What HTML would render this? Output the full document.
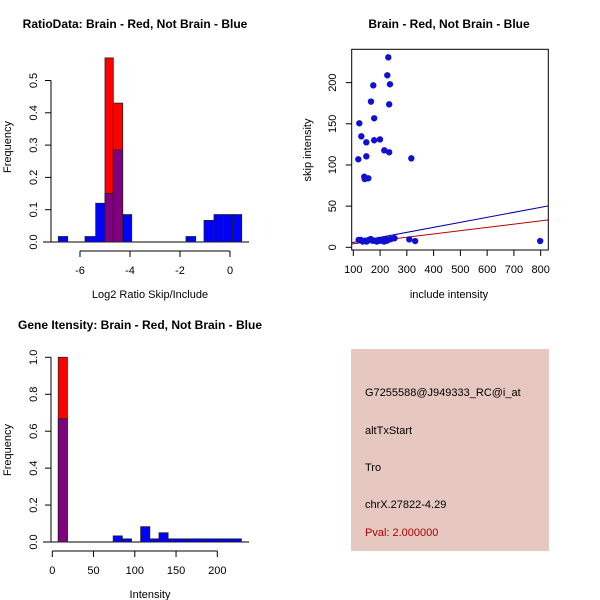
<!DOCTYPE html>
<html><head><meta charset="utf-8"><style>
body{margin:0;background:#fff}
svg{display:block;font-family:"Liberation Sans",Arial,sans-serif}
</style></head><body>
<svg id="c" width="600" height="600" viewBox="0 0 600 600"></svg>
<script>
// Panel 1: ratio histogram (bars: left edge, right edge, blue freq, red freq)
const ratioLeft  = [-6.868,-5.8,-5.372,-5.0,-4.668,-4.292,-1.76,-1.04,-0.64,-0.268,0.108];
const ratioRight = [-6.492,-5.372,-5.0,-4.668,-4.292,-3.932,-1.372,-0.64,-0.268,0.108,0.468];
const ratioBlue  = [0.017,0.017,0.12,0.15,0.285,0.085,0.017,0.067,0.085,0.085,0.085];
const ratioRed   = [0,0,0,0.57,0.43,0,0,0,0,0,0];
const ratioXTicks = [-6,-4,-2,0];
const ratioYTicks = [0,0.1,0.2,0.3,0.4,0.5];
// Panel 2: scatter
const includeVals = [230.8,227,237,174.7,166,234,178,122.4,130,148.6,178,199.7,215.8,234,148.6,118.7,316.7,141,142.6,156,
 120,128,135,145,150,158,165,172,180,188,195,202,210,215,220,225,230,240,254,309,331,798];
const skipVals = [230.7,208.9,198,196.7,177,173.6,156.7,150.6,134.8,127.5,130,131,117.8,115.4,110.5,106.9,108,85.7,82.9,83.8,
 9,9,7,8,7,9,10,8,8,7,9,8,9,7,10,8,9,10,11,9.6,7.6,7.6];
const fitIntercept = [-0.1, 0.26];
const fitSlope = [0.0608, 0.0398];
const fitColors = ["#0000aa","#bb0000"];
const scatXTicks = [100,200,300,400,500,600,700,800];
const scatYTicks = [0,50,100,150,200];
// Panel 3: intensity histogram
const intBinStart = 7.2;
const intBinWidth = 11.1;
const intBlue = [0.667,0,0,0,0,0,0.033,0.017,0,0.083,0.017,0.05,0.017,0.017,0.017,0.017,0.017,0.017,0.017,0.017];
const intRed  = [1.0,0,0,0,0,0,0,0,0,0,0,0,0,0,0,0,0,0,0,0];
const intXTicks = [0,50,100,150,200];
const intYTicks = [0,0.2,0.4,0.6,0.8,1.0];
const infoLines = ["G7255588@J949333_RC@i_at","altTxStart","Tro","chrX.27822-4.29"];
const pvalText = "Pval: 2.000000";

const svg = document.getElementById('c');
const NS = "http://www.w3.org/2000/svg";
function mk(tag, attrs, parent){const e=document.createElementNS(NS,tag);for(const k in attrs)e.setAttribute(k,attrs[k]);(parent||svg).appendChild(e);return e;}
function txt(s,x,y,attrs){const e=mk('text',Object.assign({x:x,y:y,'font-size':11,'text-anchor':'middle',fill:'#000'},attrs||{}));e.textContent=s;return e;}

function bars(g, lefts, rights, blue, red, sx, sy){
  for(let i=0;i<blue.length;i++){
    const x0=sx(lefts[i]), x1=sx(rights[i]);
    const b=blue[i], r=red[i];
    if(r>0){
      const e=mk('rect',{x:x0,y:sy(r),width:x1-x0,height:sy(0)-sy(r),fill:'#ff0000',stroke:'#222','stroke-width':0.8},g);
      
      
    }
    if(b>0){
      const col = r>0 ? '#800080' : '#0000ff';
      const e=mk('rect',{x:x0,y:sy(b),width:x1-x0,height:sy(0)-sy(b),fill:col,stroke:'#222','stroke-width':0.8},g);
      
      
    }
  }
}
function yAxis(g, ticks, sy, x, labX, fmt){
  mk('line',{x1:x,x2:x,y1:sy(ticks[0]),y2:sy(ticks[ticks.length-1]),stroke:'#000'},g);
  ticks.forEach(t=>{
    mk('line',{x1:x-6,x2:x,y1:sy(t),y2:sy(t),stroke:'#000'},g);
    const e=txt(fmt(t),labX,sy(t),{transform:`rotate(-90 ${labX} ${sy(t)})`});
    
    
  });
}
function xAxis(g, ticks, sx, y, fmt){
  mk('line',{x1:sx(ticks[0]),x2:sx(ticks[ticks.length-1]),y1:y,y2:y,stroke:'#000'},g);
  ticks.forEach(t=>{
    mk('line',{x1:sx(t),x2:sx(t),y1:y,y2:y+6,stroke:'#000'},g);
    const e=txt(fmt(t),sx(t),y+23);
    
    
  });
}

// ---- Panel 1
{
  const g=mk('g',{});  
  const sx=v=>230+v*25, sy=v=>242-v*323;
  const t=txt("RatioData: Brain - Red, Not Brain - Blue",135,28,{'font-weight':'bold','font-size':12}); g.appendChild(t);
   
  mk('line',{x1:43,x2:249,y1:242,y2:242,stroke:'#000'},g);
  bars(g, ratioLeft, ratioRight, ratioBlue, ratioRed, sx, sy);
  yAxis(g, ratioYTicks, sy, 51, 37, v=>v.toFixed(1));
  xAxis(g, ratioXTicks, sx, 251, v=>String(v));
  const xl=txt("Log2 Ratio Skip/Include",150,298); g.appendChild(xl);
   
  const yl=txt("Frequency",11,147,{transform:'rotate(-90 11 147)'}); g.appendChild(yl);
   
}
// ---- Panel 2
{
  const g=mk('g',{});  
  const sx=v=>353.3+(v-100)*0.2677, sy=v=>247.3-v*0.8234;
  const t=txt("Brain - Red, Not Brain - Blue",449,28,{'font-weight':'bold','font-size':12}); g.appendChild(t);
   
  const cp=mk('clipPath',{id:'cp2'},g); mk('rect',{x:351.7,y:49.3,width:196.6,height:200.7},cp);
  const lg=mk('g',{'clip-path':'url(#cp2)'},g);
  for(let k=0;k<fitSlope.length;k++){
    const xa=80,xb=850;
    const e=mk('line',{x1:sx(xa),y1:sy(fitIntercept[k]+fitSlope[k]*xa),x2:sx(xb),y2:sy(fitIntercept[k]+fitSlope[k]*xb),stroke:fitColors[k],'stroke-width':1},lg);
    
    
  }
  for(let i=0;i<includeVals.length;i++){
    const e=mk('circle',{cx:sx(includeVals[i]),cy:sy(skipVals[i]),r:3.2,fill:'#1010d0'},g);
    
    
  }
  mk('rect',{x:351.7,y:49.3,width:196.6,height:200.7,fill:'none',stroke:'#000'},g);
  scatYTicks.forEach(v=>{
    mk('line',{x1:345.7,x2:351.7,y1:sy(v),y2:sy(v),stroke:'#000'},g);
    const e=txt(String(v),336,sy(v),{transform:`rotate(-90 336 ${sy(v)})`}); g.appendChild(e);
     
  });
  scatXTicks.forEach(v=>{
    mk('line',{x1:sx(v),x2:sx(v),y1:250,y2:256,stroke:'#000'},g);
    const e=txt(String(v),sx(v),273); g.appendChild(e);
     
  });
  const xl=txt("include intensity",449,298); g.appendChild(xl);
   
  const yl=txt("skip intensity",311,150,{transform:'rotate(-90 311 150)'}); g.appendChild(yl);
   
}
// ---- Panel 3
{
  const g=mk('g',{});  
  const sx=v=>52.3+v*0.825, sy=v=>542-v*184.7;
  const t=txt("Gene Itensity: Brain - Red, Not Brain - Blue",140,329,{'font-weight':'bold','font-size':12}); g.appendChild(t);
   
  mk('line',{x1:43,x2:249,y1:542,y2:542,stroke:'#000'},g);
  const lefts=intBlue.map((_,i)=>intBinStart+i*intBinWidth);
  const rights=intBlue.map((_,i)=>intBinStart+(i+1)*intBinWidth);
  bars(g, lefts, rights, intBlue, intRed, sx, sy);
  yAxis(g, intYTicks, sy, 51, 37, v=>v.toFixed(1));
  xAxis(g, intXTicks, sx, 551, v=>String(v));
  const xl=txt("Intensity",150,598); g.appendChild(xl);
   
  const yl=txt("Frequency",11,450,{transform:'rotate(-90 11 450)'}); g.appendChild(yl);
   
}
// ---- Panel 4
{
  const g=mk('g',{});  
  mk('rect',{x:351,y:349,width:198,height:202,fill:'#e6c8c0'},g);
  const ys=[396,434,471,508];
  infoLines.forEach((s,i)=>{
    const e=txt(s,365,ys[i],{'text-anchor':'start'}); g.appendChild(e);
     
  });
  const p=txt(pvalText,365,536,{'text-anchor':'start',fill:'#aa0000'}); g.appendChild(p);
   
}
</script>
</body></html>
